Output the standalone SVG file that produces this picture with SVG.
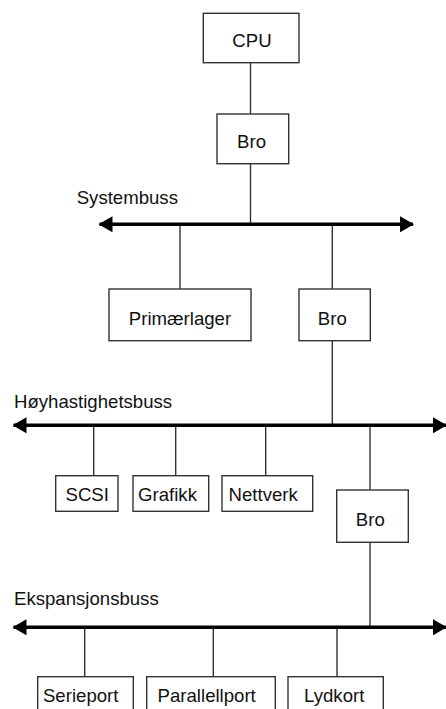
<svg xmlns="http://www.w3.org/2000/svg" width="446" height="709" viewBox="0 0 446 709">
  <style>
    .box { fill: #fff; stroke: #333; stroke-width: 1.4; }
    .lbl { font-family: "Liberation Sans", Arial, sans-serif; font-size: 18.6px; fill: #111; text-anchor: middle; }
    .bus-lbl { font-family: "Liberation Sans", Arial, sans-serif; font-size: 18.6px; fill: #111; }
    .wire { stroke: #333; stroke-width: 1.4; fill: none; }
    .bus { stroke: #000; stroke-width: 3.6; fill: none; marker-start: url(#arrow-start); marker-end: url(#arrow-end); }
  </style>
  <defs>
    <marker id="arrow-end" viewBox="0 0 14 16" refX="13" refY="8" markerWidth="14" markerHeight="16" markerUnits="userSpaceOnUse" orient="auto">
      <path d="M0,0 L14,8 L0,16 Z" fill="#000"/>
    </marker>
    <marker id="arrow-start" viewBox="0 0 14 16" refX="1" refY="8" markerWidth="14" markerHeight="16" markerUnits="userSpaceOnUse" orient="auto">
      <path d="M14,0 L0,8 L14,16 Z" fill="#000"/>
    </marker>
  </defs>
  <rect width="446" height="709" fill="#fff"/>

  <!-- connectors: vertical drops and the three buses -->
  <g id="connectors">
    <line class="wire" x1="250.5" y1="63" x2="250.5" y2="114"/>
    <line class="wire" x1="250.5" y1="164" x2="250.5" y2="224"/>
    <line class="wire" x1="180" y1="224" x2="180" y2="289"/>
    <line class="wire" x1="332.3" y1="224" x2="332.3" y2="289"/>
    <line class="wire" x1="332.3" y1="341" x2="332.3" y2="425"/>
    <line class="wire" x1="93.7" y1="425" x2="93.7" y2="476"/>
    <line class="wire" x1="175.7" y1="425" x2="175.7" y2="476"/>
    <line class="wire" x1="265.7" y1="425" x2="265.7" y2="476"/>
    <line class="wire" x1="370" y1="425" x2="370" y2="490"/>
    <line class="wire" x1="370" y1="542" x2="370" y2="627"/>
    <line class="wire" x1="84.7" y1="627" x2="84.7" y2="677"/>
    <line class="wire" x1="213.3" y1="627" x2="213.3" y2="677"/>
    <line class="wire" x1="337" y1="627" x2="337" y2="677"/>

    <line class="bus" x1="99.5" y1="224.3" x2="413" y2="224.3"/>
    <line class="bus" x1="13.5" y1="425.3" x2="446" y2="425.3"/>
    <line class="bus" x1="13.5" y1="627.3" x2="446" y2="627.3"/>
  </g>

  <!-- bus labels -->
  <text class="bus-lbl" x="76.7" y="203.5">Systembuss</text>
  <text class="bus-lbl" x="14" y="408.3">Høyhastighetsbuss</text>
  <text class="bus-lbl" x="14" y="605">Ekspansjonsbuss</text>

  <!-- nodes -->
  <g id="cpu">
    <rect class="box" x="203.3" y="13.3" width="95.7" height="49.4"/>
    <text class="lbl" x="252" y="47.3">CPU</text>
  </g>
  <g id="bro-system">
    <rect class="box" x="217" y="114" width="71.7" height="49.7"/>
    <text class="lbl" x="251.5" y="148.3">Bro</text>
  </g>
  <g id="primaerlager">
    <rect class="box" x="109" y="289" width="142" height="51.7"/>
    <text class="lbl" x="180" y="324.5">Primærlager</text>
  </g>
  <g id="bro-hoyhastighet">
    <rect class="box" x="299" y="289" width="71.3" height="51.7"/>
    <text class="lbl" x="332.3" y="324.5">Bro</text>
  </g>
  <g id="scsi">
    <rect class="box" x="55.7" y="475.7" width="62.3" height="35.6"/>
    <text class="lbl" x="87.2" y="500.7">SCSI</text>
  </g>
  <g id="grafikk">
    <rect class="box" x="133" y="475.7" width="75.7" height="35.6"/>
    <text class="lbl" x="167.5" y="500.7">Grafikk</text>
  </g>
  <g id="nettverk">
    <rect class="box" x="222" y="475.7" width="90.7" height="35.6"/>
    <text class="lbl" x="263.2" y="500.7">Nettverk</text>
  </g>
  <g id="bro-ekspansjon">
    <rect class="box" x="336.7" y="490" width="71.6" height="52.3"/>
    <text class="lbl" x="370.3" y="525.7">Bro</text>
  </g>
  <g id="serieport">
    <rect class="box" x="37.7" y="676.7" width="95.6" height="45"/>
    <text class="lbl" x="80.7" y="701.7">Serieport</text>
  </g>
  <g id="parallellport">
    <rect class="box" x="146.7" y="676.7" width="128.6" height="45"/>
    <text class="lbl" x="206.7" y="701.7">Parallellport</text>
  </g>
  <g id="lydkort">
    <rect class="box" x="288" y="676.7" width="95.3" height="45"/>
    <text class="lbl" x="334.2" y="701.7">Lydkort</text>
  </g>
</svg>
